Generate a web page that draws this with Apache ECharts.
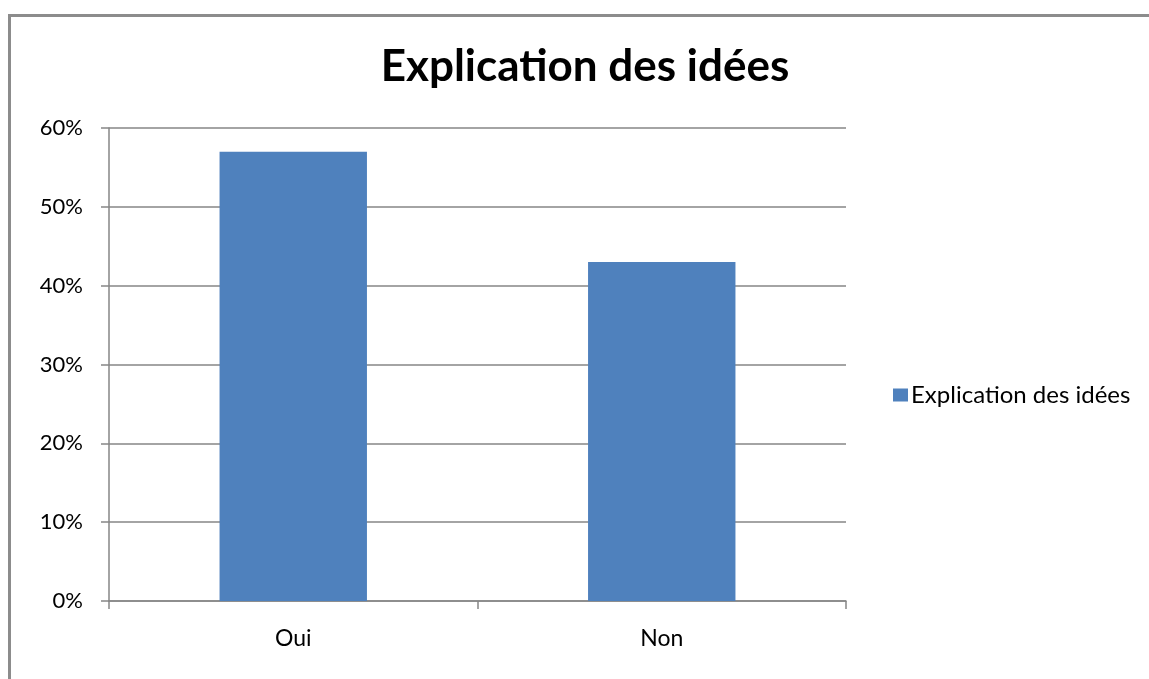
<!DOCTYPE html>
<html>
<head>
<meta charset="utf-8">
<title>Explication des idées</title>
<script src="https://cdn.jsdelivr.net/npm/echarts@6/dist/echarts.min.js"></script>
<style>
  html, body { margin: 0; padding: 0; background: #fff; }
  #frame {
    position: absolute; left: 8px; top: 14px; right: 0; bottom: 0;
    border-top: 3px solid #8c8c8c; border-left: 3px solid #8c8c8c;
  }
  #chart { position: absolute; left: 0; top: 0; width: 1149px; height: 679px; }
</style>
</head>
<body>
<div id="frame"></div>
<div id="chart"></div>
<script>
// données
var categories = ['Oui', 'Non'];
var values = [0.57, 0.43];
var seriesName = 'Explication des idées';

var myChart = echarts.init(document.getElementById('chart'));
var axisColor = '#868686';
var font = 'Lato, "Open Sans", sans-serif';

var option = {
  animation: false,
  title: {
    text: 'Explication des idées',
    left: 580,
    top: 40,
    textAlign: 'center',
    textStyle: {
      fontFamily: font,
      fontSize: 44,
      fontWeight: 'bold',
      color: '#000'
    }
  },
  legend: {
    left: 888,
    top: 378,
    itemWidth: 15,
    itemHeight: 13,
    itemGap: 7,
    icon: 'rect',
    data: [seriesName],
    textStyle: {
      fontFamily: font,
      fontSize: 24,
      color: '#000',
      padding: [0, 0, 0, -2]
    }
  },
  grid: {
    left: 109,
    right: 303,
    top: 128,
    bottom: 78,
    containLabel: false
  },
  xAxis: {
    type: 'category',
    data: categories,
    axisLine: { lineStyle: { color: axisColor, width: 1.5 } },
    axisTick: { show: true, length: 8, lineStyle: { color: axisColor, width: 1.5 } },
    axisLabel: {
      margin: 26,
      fontFamily: font,
      fontSize: 23,
      color: '#000'
    }
  },
  yAxis: {
    type: 'value',
    min: 0,
    max: 0.6,
    interval: 0.1,
    axisLine: { show: true, lineStyle: { color: axisColor, width: 1.5 } },
    axisTick: { show: true, length: 8, lineStyle: { color: axisColor, width: 1.5 } },
    splitLine: { show: true, lineStyle: { color: axisColor, width: 1.5 } },
    axisLabel: {
      margin: 26,
      fontFamily: font,
      fontSize: 22,
      color: '#000',
      formatter: function (v) { return Math.round(v * 100) + '%'; }
    }
  },
  series: [{
    name: seriesName,
    type: 'bar',
    barWidth: '40%',
    data: values,
    itemStyle: { color: '#4f81bd' }
  }]
};

myChart.setOption(option);
window.addEventListener('resize', function () {
  myChart.resize();
});
</script>
</body>
</html>
